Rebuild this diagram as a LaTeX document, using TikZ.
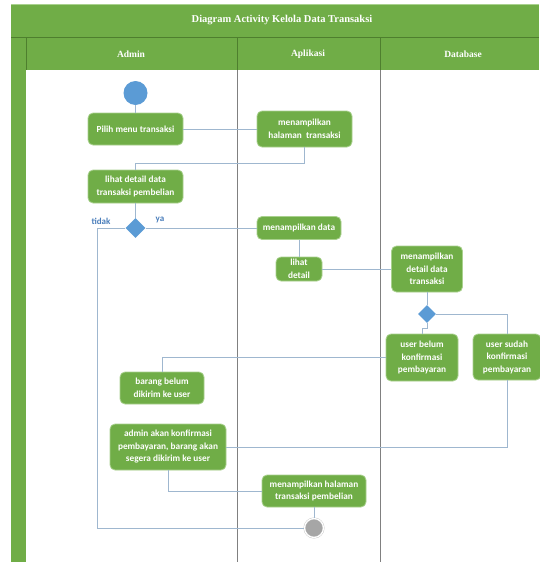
\documentclass[tikz,border=0pt]{standalone}
\usepackage{fontspec}
\setmainfont{Carlito}
\newfontfamily\headfont{Liberation Serif}
\usetikzlibrary{shapes.geometric,positioning}
\definecolor{actgreen}{HTML}{70AD47}
\definecolor{actedge}{HTML}{A9D18E}
\definecolor{laneline}{HTML}{4E7F2E}
\definecolor{flowline}{HTML}{9FB7CF}
\definecolor{startblue}{HTML}{5B9BD5}
\definecolor{labelblue}{HTML}{4A7EBB}
\tikzset{
    act/.style={draw=actedge, line width=0.8pt, fill=actgreen, rounded corners=5pt,
        text=white, align=center, inner sep=1pt, font=\bfseries\fontsize{9.3}{12.5}\selectfont},
    flow/.style={draw=flowline, line width=0.8pt},
    decision/.style={diamond, fill=startblue, minimum width=20pt, minimum height=20pt, inner sep=0pt},
    lanehead/.style={text=white, font=\headfont\bfseries\fontsize{9.5}{11}\selectfont},
    branch/.style={text=labelblue, font=\bfseries\fontsize{9}{10}\selectfont}
}

\begin{document}
\begin{tikzpicture}[x=1pt, y=-1pt]
                        \fill[white] (0,0) rectangle (539,562);
                        \useasboundingbox (0,0) rectangle (539,562);
                        \begin{scope}
                            \fill[actgreen] (11,4) rectangle (539,70);
                            \fill[actgreen] (11,70) rectangle (26,562);
                            \draw[actedge] (11,4) -- (539,4);
                            \draw[laneline] (11,37) -- (539,37) (26,37) -- (26,70)
                            (237,37) -- (237,70) (380,37) -- (380,70);
                            \draw[gray, line width=0.8pt] (237,70) -- (237,562) (380,70) -- (380,562);
                            \node[lanehead, font=\headfont\bfseries\fontsize{10.5}{12}\selectfont] (judul) at (282,20) {Diagram Activity Kelola Data Transaksi};
                            \node[lanehead] (lbladmin) at (131,54) {Admin};
                            \node[lanehead] (lblaplikasi) at (308,54) {Aplikasi};
                            \node[lanehead] (lbldatabase) at (463,54) {Database};
                        \end{scope}
                        \node[circle, fill=startblue, minimum size=24pt, inner sep=0pt] (mulai) at (135.5,93) {};
                        \node[act, minimum width=95pt, minimum height=32pt] (pilih) at (135.5,129) {Pilih menu transaksi};
                        \node[act, minimum width=95pt, minimum height=36pt] (halaman) at (304.5,129) {menampilkan\\halaman~ transaksi};
                        \node[act, minimum width=95pt, minimum height=33pt] (lihat) at (135.5,186.5) {lihat detail data\\transaksi pembelian};
                        \node[decision] (dec1) at (135.5,228) {};
                        \node[branch] (tidak) at (101,221) {tidak};
                        \node[branch] (ya) at (160,220) {ya};
                        \node[act, minimum width=84pt, minimum height=23pt] (tampil) at (299,228) {menampilkan data};
                        \node[act, minimum width=46pt, minimum height=24pt] (lihatdetail) at (299,269) {lihat\\detail};
                        \node[act, minimum width=71pt, minimum height=46pt] (detaildata) at (427,269) {menampilkan\\detail data\\transaksi};
                        \node[decision, minimum width=18pt, minimum height=18pt] (dec2) at (427,314) {};
                        \node[act, minimum width=72pt, minimum height=47pt] (belum) at (422,357.5) {user belum\\konfirmasi\\pembayaran};
                        \node[act, minimum width=68pt, minimum height=46pt] (sudah) at (507,357) {user sudah\\konfirmasi\\pembayaran};
                        \node[act, minimum width=84pt, minimum height=32pt] (barang) at (162,388) {barang belum\\dikirim ke user};
                        \node[act, minimum width=116pt, minimum height=46pt] (konfirmasi) at (168,447) {admin akan konfirmasi\\pembayaran, barang akan\\segera dikirim ke user};
                        \node[act, minimum width=104pt, minimum height=32pt] (halpembelian) at (314,491) {menampilkan halaman\\transaksi pembelian};
                        \node[circle, fill=gray!70, draw=gray!45, double=white, double distance=1.2pt, minimum size=19pt, inner sep=0pt] (akhir) at (314,528) {};
                        \coordinate (belok) at (97,528);
                        \draw[flow]
                        (mulai) edge (pilih)
                        (pilih) edge (halaman)
                        (lihat) edge (dec1)
                        (dec1) edge (tampil)
                        (tampil) edge (lihatdetail)
                        (lihatdetail) edge (detaildata)
                        (detaildata) edge (dec2)
                        (halpembelian) edge (akhir);
                        \draw[flow] (halaman.south) -- ++(0,16) -| (lihat.north);
                        \draw[flow] (dec1.west) -| (belok) -- (akhir.west);
                        \draw[flow] (dec2.south) -- ++(0,5) -| (belum.north);
                        \draw[flow] (dec2.east) -| (sudah.north);
                        \draw[flow] (sudah.south) |- (konfirmasi.east);
                        \draw[flow] (belum.west) -| (barang.north);
                        \draw[flow] (konfirmasi.south) |- (halpembelian.west);
                    \end{tikzpicture}
\end{document}
